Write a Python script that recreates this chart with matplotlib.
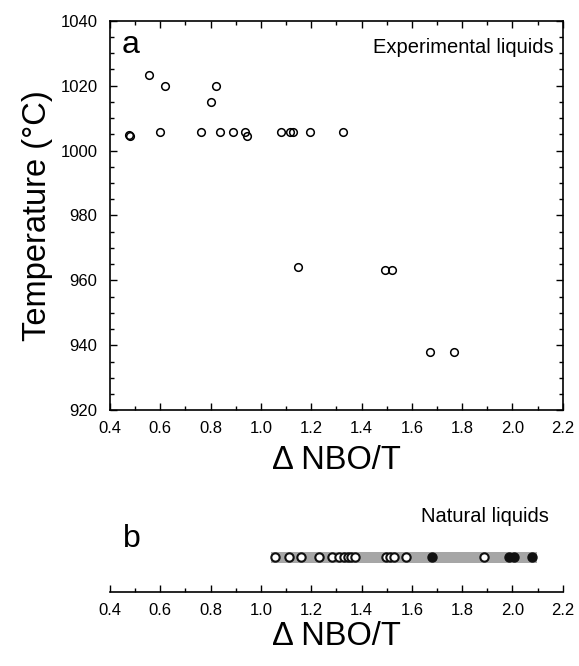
import matplotlib
matplotlib.use("Agg")
import matplotlib.pyplot as plt
from matplotlib.ticker import MultipleLocator, FormatStrFormatter

plt.rcParams['font.family'] = ['Liberation Sans', 'DejaVu Sans']

# panel a: experimental liquids
exp_nbo = [0.476, 0.481, 0.556, 0.598, 0.619, 0.761, 0.800, 0.822, 0.836, 0.889,
           0.936, 0.945, 1.080, 1.116, 1.128, 1.148, 1.196, 1.326, 1.494, 1.522,
           1.672, 1.768]
exp_temp = [1004.8, 1004.6, 1023.2, 1005.8, 1020.0, 1005.8, 1014.8, 1020.0, 1005.8, 1005.8,
            1005.8, 1004.6, 1005.8, 1005.8, 1005.8, 964.2, 1005.8, 1005.8, 963.2, 963.2,
            938.0, 938.0]

# panel b: natural liquids
nat_open = [1.057, 1.112, 1.160, 1.230, 1.283, 1.309, 1.329, 1.345, 1.359, 1.375,
            1.498, 1.514, 1.530, 1.575, 1.885]
nat_filled = [1.680, 1.985, 2.005, 2.078]
nat_range = [1.039, 2.098]

fig = plt.figure(figsize=(5.79, 6.66), dpi=100)

ax = fig.add_axes([0.19, 0.384, 0.782, 0.585])
ax.plot(exp_nbo, exp_temp, 'o', mfc='none', mec='black', ms=5.5, mew=1.1)
ax.set_xlim(0.4, 2.2)
ax.set_ylim(920, 1040)
ax.xaxis.set_major_locator(MultipleLocator(0.2))
ax.xaxis.set_minor_locator(MultipleLocator(0.1))
ax.yaxis.set_major_locator(MultipleLocator(20))
ax.yaxis.set_minor_locator(MultipleLocator(5))
ax.xaxis.set_major_formatter(FormatStrFormatter('%.1f'))
ax.tick_params(which='both', direction='in', top=True, right=True, labelsize=12)
ax.tick_params(axis='x', pad=8)
ax.tick_params(axis='y', pad=9)
ax.tick_params(which='major', length=5, width=1)
ax.tick_params(which='minor', length=3, width=1)
for s in ax.spines.values():
    s.set_linewidth(1.2)
ax.set_xlabel('Δ NBO/T', fontsize=23.5, labelpad=6)
ax.set_ylabel('Temperature (°C)', fontsize=23.5, labelpad=5)
ax.text(0.026, 0.975, 'a', transform=ax.transAxes, fontsize=23, va='top', ha='left')
ax.text(0.98, 0.93, 'Experimental liquids', transform=ax.transAxes, fontsize=14.5,
        va='center', ha='right')

bx = fig.add_axes([0.19, 0.1116, 0.782, 0.108])
bx.barh(0.477, nat_range[1] - nat_range[0], left=nat_range[0], height=0.16,
        color='#a6a6a6', zorder=1)
bx.plot(nat_open, [0.477] * len(nat_open), 'o', mfc='white', mec='#111111',
        ms=6, mew=1.5, zorder=3)
bx.plot(nat_filled, [0.477] * len(nat_filled), 'o', mfc='#111111', mec='#111111',
        ms=6.5, mew=1.0, zorder=3)
bx.set_xlim(0.4, 2.2)
bx.set_ylim(0, 1)
bx.set_yticks([])
for side in ['left', 'right', 'top']:
    bx.spines[side].set_visible(False)
bx.spines['bottom'].set_linewidth(1.2)
bx.xaxis.set_major_locator(MultipleLocator(0.2))
bx.xaxis.set_minor_locator(MultipleLocator(0.1))
bx.xaxis.set_major_formatter(FormatStrFormatter('%.1f'))
bx.tick_params(which='both', direction='in', labelsize=12, pad=8)
bx.tick_params(which='major', length=5, width=1)
bx.tick_params(which='minor', length=3, width=1)
bx.set_xlabel('Δ NBO/T', fontsize=23.5, labelpad=2)
bx.text(0.028, 0.73, 'b', transform=bx.transAxes, fontsize=23, va='center', ha='left')
bx.text(0.97, 1.04, 'Natural liquids', transform=bx.transAxes, fontsize=14.5,
        va='center', ha='right')

fig.savefig('out.png', dpi=100)
